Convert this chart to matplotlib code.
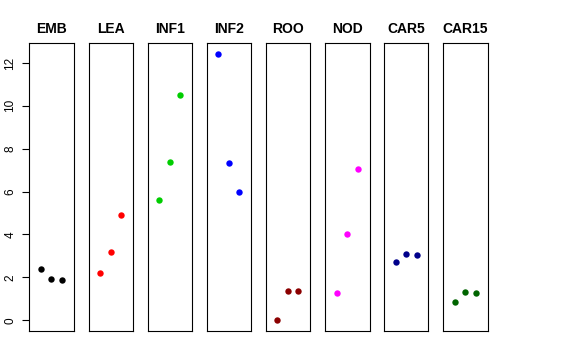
import matplotlib
matplotlib.use("Agg")
import matplotlib.pyplot as plt

plt.rcParams['font.family'] = ['Liberation Sans', 'DejaVu Sans']

panels = ["EMB", "LEA", "INF1", "INF2", "ROO", "NOD", "CAR5", "CAR15"]
colors = ["black", "red", "#00CD00", "blue", "#8B0000", "magenta", "#00008B", "#006400"]
x_pos = [1, 2, 3]
values = {
    "EMB":   [2.38, 1.93, 1.87],
    "LEA":   [2.19, 3.20, 4.93],
    "INF1":  [5.63, 7.37, 10.52],
    "INF2":  [12.43, 7.32, 5.98],
    "ROO":   [0.00, 1.37, 1.37],
    "NOD":   [1.29, 4.01, 7.07],
    "CAR5":  [2.73, 3.11, 3.05],
    "CAR15": [0.85, 1.31, 1.27],
}
yticks = [0, 2, 4, 6, 8, 10, 12]

W, H = 576, 360
fig = plt.figure(figsize=(W / 100, H / 100), dpi=100)
lefts = [29, 88.5, 147.5, 206.5, 265.5, 325, 384, 443]
pw = 44.5
top, bottom = 43, 331

for i, name in enumerate(panels):
    ax = fig.add_axes([lefts[i] / W, 1 - bottom / H, pw / W, (bottom - top) / H])
    ax.plot(x_pos, values[name], 'o', color=colors[i], markersize=4.6, markeredgewidth=0)
    ax.set_xlim(-0.16, 4.16)
    ax.set_ylim(-0.5, 12.93)
    ax.set_xticks([])
    ax.set_title(name, fontsize=10, fontweight='bold', pad=7)
    for s in ax.spines.values():
        s.set_linewidth(0.8)
        s.set_color('black')
    if i == 0:
        ax.set_yticks(yticks)
        ax.set_yticklabels([str(v) for v in yticks], rotation=90, va='center', fontsize=8.5)
        ax.tick_params(axis='y', length=5, width=0.8, pad=4)
    else:
        ax.set_yticks([])

fig.savefig("out.png", dpi=100)
